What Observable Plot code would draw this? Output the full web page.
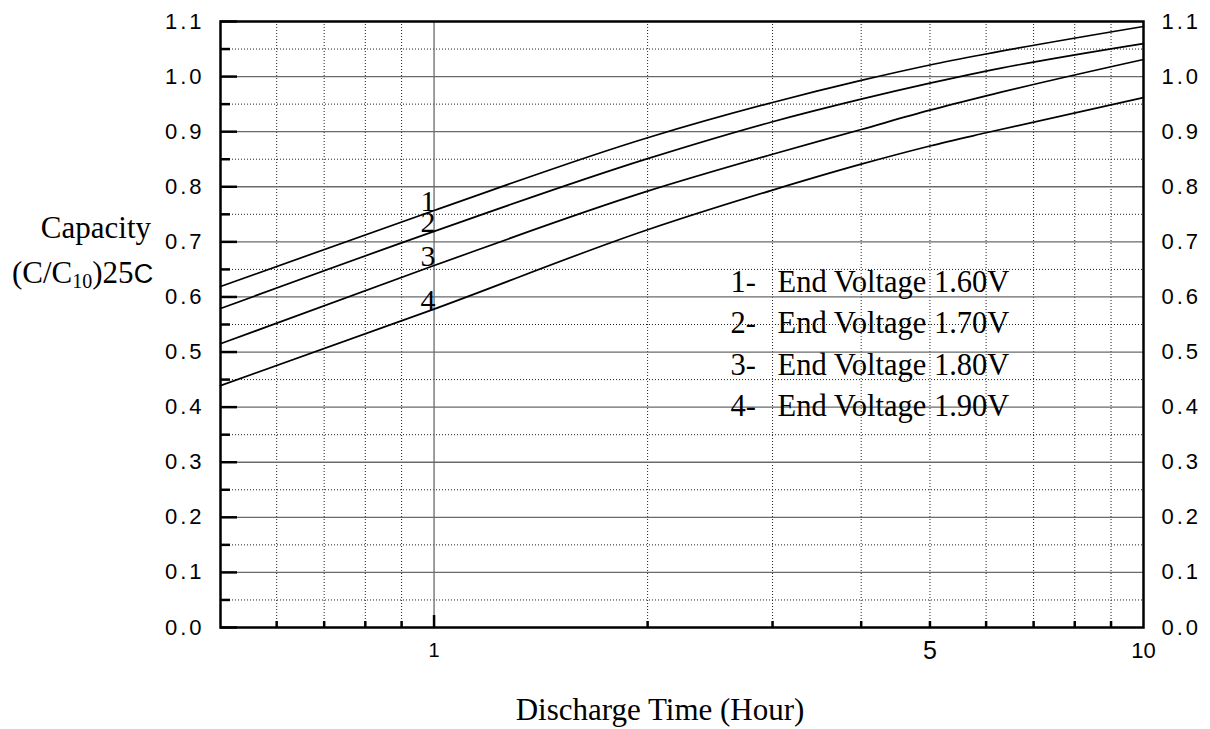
<!DOCTYPE html>
<html><head><meta charset="utf-8">
<script src="https://cdn.jsdelivr.net/npm/d3@7"></script>
<script src="https://cdn.jsdelivr.net/npm/@observablehq/plot@0.6"></script>
<style>
body{margin:0;background:#fff;}
#chart svg{display:block;}
g[aria-label="y-axis tick label"] text{letter-spacing:3px;}
</style></head><body><div id="chart"></div>
<script>
// ---- data ----
const hours  = [0.5, 1, 2, 3, 4, 5, 6, 10];
const curve1 = [0.619, 0.757, 0.889, 0.953, 0.993, 1.021, 1.041, 1.091];
const curve2 = [0.579, 0.719, 0.851, 0.918, 0.959, 0.988, 1.010, 1.060];
const curve3 = [0.515, 0.657, 0.792, 0.859, 0.904, 0.939, 0.965, 1.031];
const curve4 = [0.439, 0.578, 0.722, 0.794, 0.841, 0.874, 0.898, 0.962];
const seriesNames = ["1", "2", "3", "4"];
const legendNumbers = ["1-", "2-", "3-", "4-"];
const legendLabels = ["End Voltage 1.60V", "End Voltage 1.70V", "End Voltage 1.80V", "End Voltage 1.90V"];
const yMajor = [0.0, 0.1, 0.2, 0.3, 0.4, 0.5, 0.6, 0.7, 0.8, 0.9, 1.0, 1.1];
const yMinor = [0.05, 0.15, 0.25, 0.35, 0.45, 0.55, 0.65, 0.75, 0.85, 0.95, 1.05];
const xMinor = [0.6, 0.7, 0.8, 0.9, 2, 3, 4, 5, 6, 7, 8, 9];
const xMajor = [1];
const xTickLabels = [1, 5, 10];

const curves = [curve1, curve2, curve3, curve4];
const rows = seriesNames.flatMap((s, i) => hours.map((h, j) => ({series: s, hour: h, cap: curves[i][j]})));

const W = 1210, H = 729;
const mL = 220, mR = 67, mT = 21, mB = 102;
const fw = W - mL - mR, fh = H - mT - mB;
const serif = "Liberation Serif, Times New Roman, serif";
const sans = "Liberation Sans, Arial, sans-serif";
const dotted = {stroke: "#222", strokeWidth: 1, strokeDasharray: "1,2"};

const svg = Plot.plot({
  width: W, height: H,
  marginLeft: mL, marginRight: mR, marginTop: mT, marginBottom: mB,
  style: {fontFamily: sans, background: "#fff", color: "#000"},
  x: {type: "log", domain: [0.5, 10], axis: null},
  y: {domain: [0, 1.1], axis: null},
  marks: [
    Plot.ruleY(yMinor, dotted),
    Plot.ruleX(xMinor, dotted),
    Plot.ruleY(yMajor.slice(1, -1), {stroke: "#6a6a6a", strokeWidth: 1.3}),
    Plot.ruleX(xMajor, {stroke: "#6a6a6a", strokeWidth: 1.3}),
    Plot.tickY(yMajor, {y: d => d, insetRight: fw - 17, strokeWidth: 2.5}),
    Plot.tickY(yMinor, {y: d => d, insetRight: fw - 10, strokeWidth: 2.5}),
    Plot.tickX(xMinor, {x: d => d, insetTop: fh - 6, strokeWidth: 2.5}),
    Plot.tickX(xMajor, {x: d => d, insetTop: fh - 12, strokeWidth: 2.5}),
    Plot.line(rows, {x: "hour", y: "cap", z: "series", curve: "monotone-x", stroke: "#000", strokeWidth: 1.7}),
    Plot.text(rows.filter(d => d.hour === 1), {x: "hour", y: "cap", text: "series", dx: -6, dy: -9, fontSize: 30, fontFamily: serif, lineAnchor: "middle"}),
    Plot.frame({stroke: "#000", strokeWidth: 2.5}),
    Plot.axisY(yMajor, {anchor: "left", tickSize: 0, tickPadding: 16, tickFormat: d3.format(".1f"), fontSize: 22, label: null}),
    Plot.axisY(yMajor, {anchor: "right", tickSize: 0, tickPadding: 18, tickFormat: d3.format(".1f"), fontSize: 22, label: null}),
    Plot.text(xTickLabels, {x: d => d, frameAnchor: "bottom", dy: 23, text: d => String(d), fontSize: d => d === 5 ? 25 : (d === 10 ? 22 : 20), fontFamily: sans, lineAnchor: "middle"}),
    Plot.text([legendNumbers.join("\n")], {frameAnchor: "left", dx: 510, dy: 16, textAnchor: "start", lineAnchor: "middle", lineHeight: 1.36, fontSize: 30.5, fontFamily: serif}),
    Plot.text([legendLabels.join("\n")], {frameAnchor: "left", dx: 557, dy: 16, textAnchor: "start", lineAnchor: "middle", lineHeight: 1.36, fontSize: 30.5, fontFamily: serif})
  ]
});

const s = d3.select(svg);
// x-axis title
s.append("text").attr("x", 660).attr("y", 720).attr("text-anchor", "middle")
  .attr("font-family", serif).attr("font-size", 31).text("Discharge Time (Hour)");
// y-axis title
s.append("text").attr("x", 151).attr("y", 238).attr("text-anchor", "end")
  .attr("font-family", serif).attr("font-size", 31).text("Capacity");
const t2 = s.append("text").attr("x", 12).attr("y", 283).attr("text-anchor", "start")
  .attr("font-family", serif).attr("font-size", 31);
t2.append("tspan").text("(C/C");
t2.append("tspan").attr("font-size", 20).attr("dy", 5).text("10");
t2.append("tspan").attr("dy", -5).text(")25");
t2.append("tspan").attr("font-family", sans).attr("font-size", 27).text("C");

document.getElementById("chart").appendChild(svg);
</script></body></html>
